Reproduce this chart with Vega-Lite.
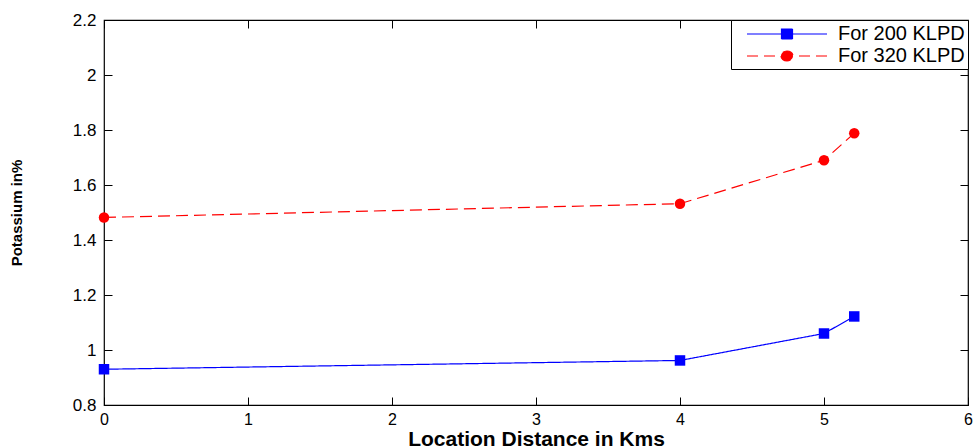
{
  "$schema": "https://vega.github.io/schema/vega-lite/v6.json",
  "autosize": "none",
  "width": 864,
  "height": 385,
  "padding": {"left": 104, "top": 20, "right": 12, "bottom": 41},
  "background": "white",
  "config": {
    "font": "Liberation Sans",
    "view": {"stroke": "black", "strokeWidth": 1.2},
    "axis": {"grid": false, "domain": false, "tickColor": "black", "tickSize": -8, "labelColor": "black", "labelFontSize": 17, "labelFont": "Liberation Sans", "titleColor": "black", "titleFont": "Liberation Sans"}
  },
  "data": {"values": [
    {"x": 0, "y": 0.93, "series": "For 200 KLPD"},
    {"x": 4, "y": 0.962, "series": "For 200 KLPD"},
    {"x": 5, "y": 1.06, "series": "For 200 KLPD"},
    {"x": 5.21, "y": 1.122, "series": "For 200 KLPD"},
    {"x": 0, "y": 1.482, "series": "For 320 KLPD"},
    {"x": 4, "y": 1.532, "series": "For 320 KLPD"},
    {"x": 5, "y": 1.69, "series": "For 320 KLPD"},
    {"x": 5.21, "y": 1.788, "series": "For 320 KLPD"}
  ]},
  "layer": [
    {
      "mark": {"type": "line", "strokeWidth": 1.2},
      "encoding": {
        "x": {"field": "x", "type": "quantitative", "scale": {"domain": [0, 6], "nice": false, "zero": false},
          "axis": {"orient": "bottom", "values": [0,1,2,3,4,5,6], "title": "Location Distance in Kms", "titleFontSize": 21, "titleFontWeight": "bold", "titlePadding": 1, "labelPadding": 14, "labelFontSize": 16, "labelFlush": false}},
        "y": {"field": "y", "type": "quantitative", "scale": {"domain": [0.8, 2.2], "nice": false, "zero": false},
          "axis": {"orient": "left", "values": [0.8,1,1.2,1.4,1.6,1.8,2,2.2], "title": "Potassium in%", "titleFontSize": 15, "titleFontWeight": "bold", "titlePadding": 48, "labelPadding": 16, "labelFlush": false, "labelExpr": "datum.value"}},
        "color": {"field": "series", "type": "nominal", "scale": {"domain": ["For 200 KLPD", "For 320 KLPD"], "range": ["#0000ff", "#ff0000"]},
          "legend": {"orient": "top-right", "offset": 0, "title": null, "strokeColor": "black", "fillColor": "white", "padding": 3, "labelFontSize": 20, "labelColor": "black", "symbolSize": 400, "rowPadding": 1, "labelOffset": 40, "symbolOffset": 42, "symbolStrokeWidth": 1.2,
            "labelExpr": "datum.label + '\u00a0\u00a0\u00a0\u00a0\u00a0\u00a0\u00a0\u00a0'",
            "encode": {"symbols": {"update": {
              "shape": {"signal": "datum.value === 'For 200 KLPD' ? 'M-4,0H4M-0.55,-0.5H0.55V0.5H-0.55Z' : 'M-4,0H-2.9M-2.3,0H-1.2M-0.6,0A0.6,0.5 0 1,0 0.6,0A0.6,0.5 0 1,0 -0.6,0ZM1.2,0H2.3M2.9,0H4'"},
              "fill": {"signal": "datum.value === 'For 200 KLPD' ? '#0000ff' : '#ff0000'"},
              "strokeDash": {"value": [1, 0]},
              "fillOpacity": {"value": 1},
              "opacity": {"value": 1}
            }}}}},
        "strokeDash": {"field": "series", "type": "nominal", "scale": {"domain": ["For 200 KLPD", "For 320 KLPD"], "range": [[1, 0], [12, 6]]}}
      }
    },
    {
      "transform": [{"filter": "datum.series === 'For 200 KLPD'"}],
      "mark": {"type": "point", "filled": true, "size": 110, "opacity": 1, "shape": "square"},
      "encoding": {
        "x": {"field": "x", "type": "quantitative", "axis": null},
        "y": {"field": "y", "type": "quantitative", "axis": null},
        "color": {"field": "series", "type": "nominal", "legend": null}
      }
    },
    {
      "transform": [{"filter": "datum.series === 'For 320 KLPD'"}],
      "mark": {"type": "point", "filled": true, "size": 110, "opacity": 1, "shape": "circle"},
      "encoding": {
        "x": {"field": "x", "type": "quantitative", "axis": null},
        "y": {"field": "y", "type": "quantitative", "axis": null},
        "color": {"field": "series", "type": "nominal", "legend": null}
      }
    },
    {
      "mark": {"type": "point", "opacity": 0},
      "encoding": {
        "x": {"field": "x", "type": "quantitative", "axis": {"orient": "top", "values": [0,1,2,3,4,5,6], "labels": false, "title": null}},
        "y": {"field": "y", "type": "quantitative", "axis": {"orient": "right", "values": [0.8,1,1.2,1.4,1.6,1.8,2,2.2], "labels": false, "title": null}}
      }
    }
  ],
  "resolve": {"axis": {"x": "independent", "y": "independent"}}
}
